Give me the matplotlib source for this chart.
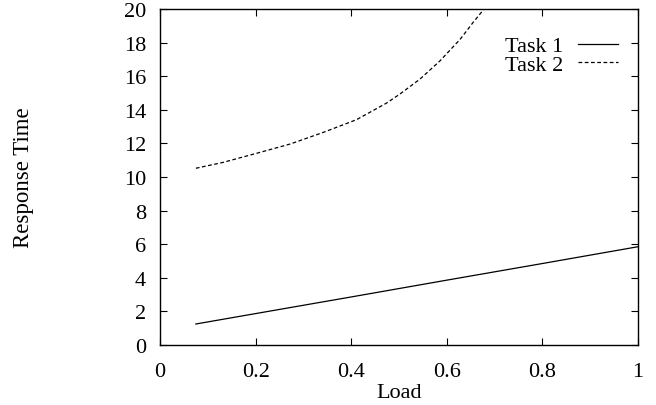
import matplotlib
matplotlib.use("Agg")
import matplotlib.pyplot as plt
import numpy as np

# Data
load1 = [0.075, 0.2, 0.4, 0.6, 0.8, 1.0]
task1 = [1.25, 1.87, 2.86, 3.86, 4.85, 5.85]

load2 = [0.075, 0.132, 0.202, 0.272, 0.342, 0.411, 0.474, 0.502, 0.544,
         0.586, 0.628, 0.655, 0.678]
task2 = [10.52, 10.87, 11.41, 11.96, 12.66, 13.41, 14.4, 14.94, 15.83,
         16.92, 18.2, 19.2, 20.0]

xticks = [0, 0.2, 0.4, 0.6, 0.8, 1]
xticklabels = ["0", "0.2", "0.4", "0.6", "0.8", "1"]
yticks = list(range(0, 21, 2))

plt.rcParams['font.family'] = ['Liberation Serif', 'DejaVu Serif']

fig = plt.figure(figsize=(6.56, 4.06), dpi=100)
ax = fig.add_axes([160/656, 1 - 346/406, (638-160)/656, (346-10)/406])

ax.plot(load1, task1, color='black', lw=0.9, label='Task 1')
ax.plot(load2, task2, color='black', lw=0.9, linestyle=(0, (3, 2)), label='Task 2')

ax.set_xlim(0, 1)
ax.set_ylim(0, 20)
ax.set_xticks(xticks)
ax.set_xticklabels(xticklabels)
ax.set_yticks(yticks)
ax.tick_params(direction='in', length=5, width=0.8, top=True, right=True,
               labelsize=16)
ax.tick_params(axis='x', pad=12)
ax.tick_params(axis='y', pad=10)
for s in ax.spines.values():
    s.set_linewidth(1.0)

ax.set_xlabel('Load', fontsize=16, labelpad=2)
fig.text(23/656, 1 - 178/406, 'Response Time', rotation=90, fontsize=16.5,
         ha='center', va='center')

leg = ax.legend(loc='upper right', frameon=False, fontsize=16,
                markerfirst=False, handlelength=1.8, handletextpad=0.68,
                labelspacing=-0.1, borderaxespad=0.0, borderpad=0.0,
                bbox_to_anchor=((618 - 160) / (638 - 160), 0.92))

fig.savefig('out.png', dpi=100)
